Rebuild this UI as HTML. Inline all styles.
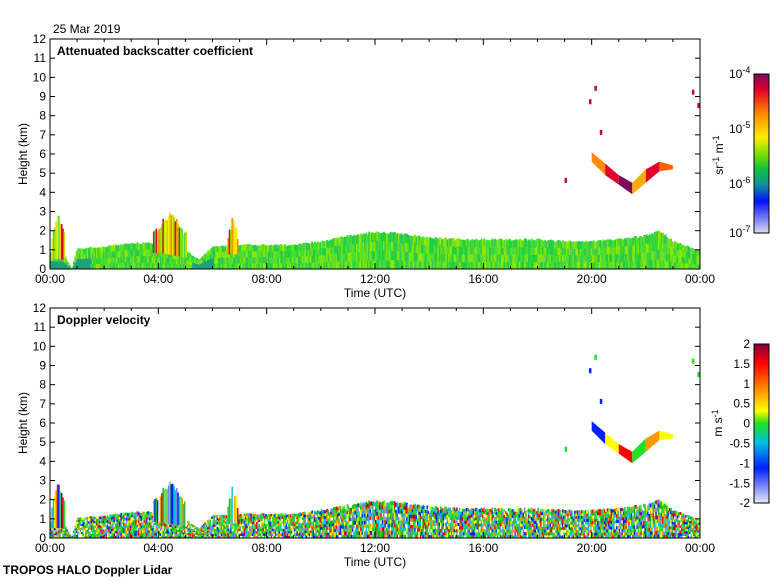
<!DOCTYPE html>
<html><head><meta charset="utf-8">
<style>
body{margin:0;background:#fff;width:780px;height:580px;overflow:hidden;font-family:"Liberation Sans",sans-serif;}
svg text{font-family:"Liberation Sans",sans-serif;font-size:12px;fill:#000;}
</style></head><body>
<svg id="s" width="780" height="580">
<defs>
<linearGradient id="gb" x1="0" y1="0" x2="0" y2="1">
<stop offset="0" stop-color="#7a0a5a"/><stop offset="0.1" stop-color="#e0002a"/><stop offset="0.25" stop-color="#ff8a00"/><stop offset="0.4" stop-color="#ffee00"/><stop offset="0.5" stop-color="#7fe000"/><stop offset="0.6" stop-color="#10c040"/><stop offset="0.7" stop-color="#1090a0"/><stop offset="0.8" stop-color="#0010ff"/><stop offset="1" stop-color="#dcdcec"/>
</linearGradient>
<linearGradient id="gd" x1="0" y1="0" x2="0" y2="1">
<stop offset="0" stop-color="#800040"/><stop offset="0.12" stop-color="#ff0000"/><stop offset="0.3" stop-color="#ff9900"/><stop offset="0.42" stop-color="#ffff00"/><stop offset="0.5" stop-color="#20e020"/><stop offset="0.62" stop-color="#00c0e0"/><stop offset="0.78" stop-color="#0020ff"/><stop offset="1" stop-color="#e8e8f8"/>
</linearGradient>
</defs>
</svg>
<script>
// data
const blTimes=[0,0.5,0.8,1,2,3,4,5,5.5,6,7,8,9,10,11,12,13,14,15,16,17,18,19,20,21,22,22.5,23,24];
const blTops=[0.9,0.8,0,1.1,1.2,1.4,1.4,1.0,0.5,1.2,1.3,1.3,1.3,1.5,1.8,2.0,1.9,1.7,1.6,1.6,1.6,1.6,1.5,1.5,1.6,1.8,2.1,1.5,1.0];
const plumeStart=[0.05,3.8,6.55];
const plumeEnd=[0.5,5.0,6.9];
const plumeTop=[3.3,3.3,3.0];
const cloudTimes=[20.0,20.5,21.0,21.5,22.0,22.5,23.0];
const cloudBottom=[5.6,4.9,4.4,3.9,4.5,5.1,5.2];
const cloudTop=[6.1,5.5,4.9,4.5,5.2,5.6,5.4];
const dotTimes=[19.9,20.1,19.0,20.3,23.7,23.9];
const dotHeights=[8.7,9.4,4.6,7.1,9.2,8.5];
const yTicks=[0,1,2,3,4,5,6,7,8,9,10,11,12];
const xTickLabels=["00:00","04:00","08:00","12:00","16:00","20:00","00:00"];
const NS="http://www.w3.org/2000/svg";
const S=document.getElementById('s');
function el(tag,attrs,parent){const e=document.createElementNS(NS,tag);for(const k in attrs)e.setAttribute(k,attrs[k]);(parent||S).appendChild(e);return e;}
function hsh(a,b){let h=(a*374761393+b*668265263)>>>0;h=((h^(h>>>13))*1274126177)>>>0;return (h^(h>>>16))>>>0;}
const X0=50,X1=700;
function xs(t){return X0+(X1-X0)*t/24;}
function interp(t){for(let i=0;i<blTimes.length-1;i++){if(t>=blTimes[i]&&t<=blTimes[i+1]){const f=(t-blTimes[i])/(blTimes[i+1]-blTimes[i]);return blTops[i]+f*(blTops[i+1]-blTops[i]);}}return 0;}
const greens=["#20d040","#40e030","#70e020","#30c850","#50d838","#90e800"];
const dop=["#00c000","#20e020","#ffff00","#ff9900","#ff0000","#00c0e0","#0020ff","#8080ff","#ffffff","#40d040","#60e060","#30b030"];
function panel(y0,title,isDop){
  const y1=y0+230;
  const ys=h=>y1-h*230/12;
  const g=el('g',{});
  
  
  const step=0.05;
  for(let t=0,i=0;t<24;t+=step,i++){
    let h=interp(t+step/2); if(h<=0.05)continue;
    h=h*(0.93+0.07*(hsh(i,99)%100)/100);
    const n=isDop?10:4;
    for(let k=0;k<n;k++){
      const hb=h*k/n,ht=h*(k+1)/n;
      const r0=hsh(i,k+(isDop?50:0));
      const c=isDop?dop[r0%dop.length]:(k<=1&&(t<1.5||(t>5.2&&t<6))?"#1fa080":greens[r0%greens.length]);
      const r=el('rect',{x:xs(t),y:ys(ht),width:(X1-X0)*step/24+0.4,height:ys(hb)-ys(ht)+0.3,fill:c},g);
      
    }
  }
  for(let p=0;p<plumeStart.length;p++){
    const mid=(plumeStart[p]+plumeEnd[p])/2,half=(plumeEnd[p]-plumeStart[p])/2;
    for(let t=plumeStart[p],j=0;t<plumeEnd[p];t+=0.05,j++){
      const shape=1-0.4*Math.abs(t-mid)/half;
      const top=plumeTop[p]*shape*(0.8+0.2*(hsh(j,p)%100)/100);
      const base=interp(t)*0.6;
      const c=isDop?dop[hsh(j,p+7)%dop.length]:["#ffee00","#ff8a00","#d0e000","#e0002a","#90e800","#50d838"][hsh(j,p+3)%6];
      const r=el('rect',{x:xs(t),y:ys(top),width:1.6,height:ys(base)-ys(top),fill:c},g);
      
    }
  }
  for(let i=0;i<cloudTimes.length-1;i++){
    const t0=cloudTimes[i],t1=cloudTimes[i+1];
    const pts=[[xs(t0),ys(cloudTop[i])],[xs(t1),ys(cloudTop[i+1])],[xs(t1),ys(cloudBottom[i+1])],[xs(t0),ys(cloudBottom[i])]];
    const c=isDop?["#0020ff","#ffff00","#ff0000","#20e020","#ff9900","#ffff00"][i]:["#ff8a00","#e0002a","#7a0a5a","#ffaa00","#e0002a","#ff6000"][i];
    const r=el('polygon',{points:pts.map(p=>p.join(',')).join(' '),fill:c},g);
    
  }
  dotTimes.forEach((t,i)=>{
    const r=el('rect',{x:xs(t),y:ys(dotHeights[i])-3,width:2.5,height:5,fill:isDop?["#0020ff","#20e020","#20e020","#0020ff","#20e020","#20e020"][i]:"#c00040"},g);
    
  });
  const f=el('rect',{x:X0,y:y0,width:X1-X0,height:230,fill:'none',stroke:'#000','stroke-width':1});
  
  yTicks.forEach(v=>{
    const y=ys(v);
    el('line',{x1:X0,x2:X0+5,y1:y,y2:y,stroke:'#000'});
    el('line',{x1:X1-5,x2:X1,y1:y,y2:y,stroke:'#000'});
    const tx=el('text',{x:X0-4,y:y+4,'text-anchor':'end'});tx.textContent=v;
    
  });
  for(let h=0;h<=24;h+=1){
    const x=xs(h),len=h%4==0?6:3;
    el('line',{x1:x,x2:x,y1:y1,y2:y1-len,stroke:'#000'});
    el('line',{x1:x,x2:x,y1:y0,y2:y0+len,stroke:'#000'});
  }
  xTickLabels.forEach((l,i)=>{const tx=el('text',{x:xs(i*4),y:y1+14,'text-anchor':'middle'});tx.textContent=l;
    });
  const xt=el('text',{x:375,y:y1+28,'text-anchor':'middle'});xt.textContent='Time (UTC)';
  
  const yt=el('text',{x:0,y:0,'text-anchor':'middle',transform:`translate(27,${(y0+y1)/2}) rotate(-90)`});yt.textContent='Height (km)';
  
  const tt=el('text',{x:57,y:y0+16,'font-weight':'bold'});tt.textContent=title;
  
}
panel(39,'Attenuated backscatter coefficient',false);
panel(308,'Doppler velocity',true);
let cb=el('rect',{x:754,y:74,width:15,height:159,fill:'url(#gb)',stroke:'#000'});

[['-4',78],['-5',133],['-6',188],['-7',237]].forEach(([e,y])=>{
  const t=el('text',{x:729,y:y});t.innerHTML='10<tspan dy="-5" font-size="9">'+e+'</tspan>';
  
});
let cu=el('text',{x:0,y:0,'text-anchor':'middle',transform:'translate(723,155) rotate(-90)'});cu.innerHTML='sr<tspan dy="-4" font-size="9">-1</tspan><tspan dy="4"> m</tspan><tspan dy="-4" font-size="9">-1</tspan>';

cb=el('rect',{x:754,y:344,width:15,height:159,fill:'url(#gd)',stroke:'#000'});

['2','1.5','1','0.5','0','-0.5','-1','-1.5','-2'].forEach((l,i)=>{
  const t=el('text',{x:750,y:348+i*19.9,'text-anchor':'end'});t.textContent=l;
  
});
cu=el('text',{x:0,y:0,'text-anchor':'middle',transform:'translate(722,423) rotate(-90)'});cu.innerHTML='m s<tspan dy="-4" font-size="9">-1</tspan>';

let d=el('text',{x:53,y:33});d.textContent='25 Mar 2019';

d=el('text',{x:3,y:574,'font-weight':'bold'});d.textContent='TROPOS HALO Doppler Lidar';

</script>
</body></html>
